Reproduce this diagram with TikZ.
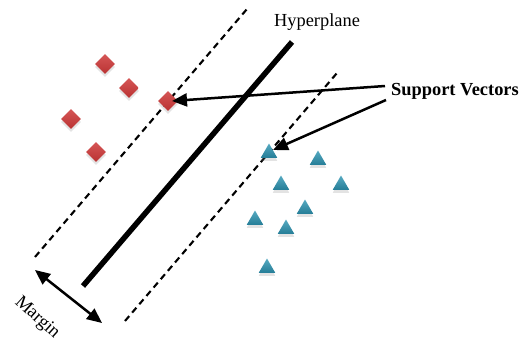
\documentclass[tikz,border=0pt]{standalone}
\usepackage{fontspec}
\setmainfont{Liberation Serif}
\usetikzlibrary{arrows.meta,shapes.geometric,shadows}
\definecolor{ptred}{RGB}{206,56,56}
\definecolor{ptblue}{RGB}{44,148,178}
\begin{document}
\begin{tikzpicture}[x=1pt,y=-1pt,
  lbl/.style={font=\fontsize{18.4}{20}\selectfont, inner sep=0pt},
  margline/.style={line width=2.1pt, dash pattern=on 6.5pt off 4.5pt},
  hyper/.style={line width=5.5pt},
  pointer/.style={line width=2.5pt, -{Triangle[length=15pt,width=13pt]}},
  bothways/.style={line width=2.5pt, {Triangle[length=15pt,width=13pt]}-{Triangle[length=15pt,width=13pt]}},
  classa/.style={diamond, minimum size=20pt, inner sep=0pt,
    top color=ptred!85!white, bottom color=ptred!90!black,
    drop shadow={opacity=0.22, shadow xshift=0pt, shadow yshift=-3pt}},
  classb/.style={regular polygon, regular polygon sides=3, minimum size=19pt, inner sep=0pt,
    top color=ptblue!80!white, bottom color=ptblue!85!black,
    drop shadow={opacity=0.22, shadow xshift=0pt, shadow yshift=-3pt}}
]
\useasboundingbox (0,0) rectangle (525,343);

% margin boundaries and separating line
\coordinate (m1a) at (35,257);
\coordinate (m1b) at (247,9);
\coordinate (m2a) at (125,321);
\coordinate (m2b) at (337,73);
\coordinate (h1) at (83,286);
\coordinate (h2) at (292,42);
\draw[margline] (m1a) -- (m1b);
\draw[margline] (m2a) -- (m2b);
\draw[hyper] (h1) -- (h2);

% class A points
\node[classa] (a1) at (105,64) {};
\node[classa] (a2) at (129,88) {};
\node[classa] (a3) at (168,101) {};
\node[classa] (a4) at (71,119) {};
\node[classa] (a5) at (96,152) {};

% class B points
\node[classb] (b1) at (269,153) {};
\node[classb] (b2) at (318,160) {};
\node[classb] (b3) at (281,185) {};
\node[classb] (b4) at (341,185) {};
\node[classb] (b5) at (305,209) {};
\node[classb] (b6) at (255,220) {};
\node[classb] (b7) at (286,229) {};
\node[classb] (b8) at (267,268) {};

% labels
\node[lbl] (hp) at (317,22) {Hyperplane};
\node[lbl, font=\fontsize{18.4}{20}\selectfont\bfseries] (sv) at (455,91) {Support Vectors};
\node[lbl, rotate=-42] (mg) at (37,318) {Margin};

% pointers to the support vectors
\coordinate (s1) at (385,86);
\coordinate (s2) at (386,100);
\coordinate (t1) at ([xshift=4pt]a3.center);
\coordinate (t2) at ([xshift=4pt,yshift=3pt]b1.center);
\draw[pointer] (s1) -- (t1);
\draw[pointer] (s2) -- (t2);

% margin width
\coordinate (w1) at (35,270);
\coordinate (w2) at (102,323);
\draw[bothways] (w1) -- (w2);
\end{tikzpicture}
\end{document}
